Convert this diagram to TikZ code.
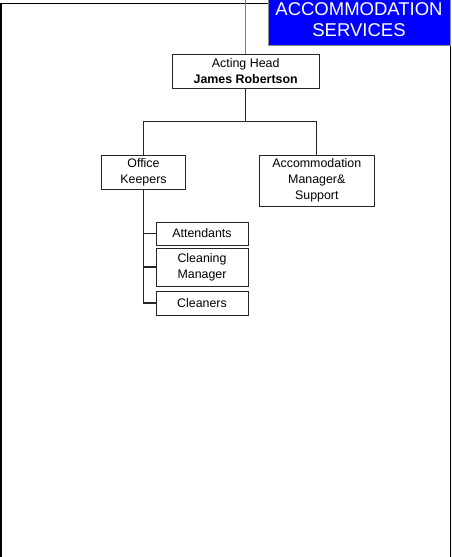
\documentclass[tikz,border=0pt]{standalone}
\usepackage{fontspec}
\setmainfont{Liberation Sans}
\begin{document}
\begin{tikzpicture}[x=1pt,y=-1pt,
  box/.style={draw=black!85, line width=1pt, fill=white, inner sep=0pt, align=center,
    font=\fontsize{12.4}{15.8}\selectfont},
  conn/.style={draw=black!85, line width=1.1pt}]
\useasboundingbox (0,0) rectangle (451,557);
\fill[white] (0,0) rectangle (451,557);
% frame
\draw[line width=1.4pt] (0.8,557) -- (0.8,3.5) -- (450.2,3.5) -- (450.2,557);
% title box
\node[draw=black!45, line width=0.8pt, fill=blue, inner sep=0pt, text=white, align=center,
  minimum width=182, minimum height=50, font=\fontsize{18.5}{21}\selectfont]
  (title) at (359,20) {ACCOMMODATION\\SERVICES};
% nodes
\node[box, minimum width=147, minimum height=34] (head) at (245.7,71) {Acting Head\\\textbf{James Robertson}};
\node[box, minimum width=84, minimum height=34] (ok) at (143.5,172.5) {Office\\Keepers};
\node[box, minimum width=115, minimum height=51] (am) at (316.8,180.5) {Accommodation\\Manager\&\\Support};
\node[box, minimum width=92, minimum height=23] (att) at (202,233.5) {Attendants};
\node[box, minimum width=92, minimum height=38] (cm) at (202,267) {Cleaning\\Manager};
\node[box, minimum width=92, minimum height=24] (cln) at (202,303) {Cleaners};
\coordinate (top) at (245.7,0);
\coordinate (bar) at (0,121.5);
% connectors
\draw[gray, line width=1.4pt] (top) -- (head.north);
\draw[conn] (head.south) -- (head.south |- bar);
\draw[conn] (ok.north) -- (ok.north |- bar) -| (am.north);
\draw[conn] (ok.south) |- (cln.west);
\draw[conn] (ok.south |- att.west) -- (att.west);
\draw[conn] (ok.south |- cm.west) -- (cm.west);
\end{tikzpicture}
\end{document}
